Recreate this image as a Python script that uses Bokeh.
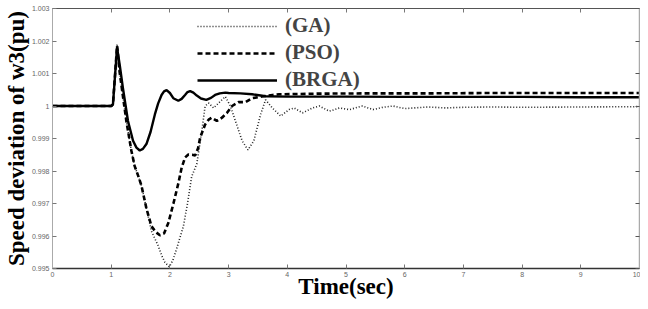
from bokeh.plotting import figure
from bokeh.models import FixedTicker, LinearAxis, Range1d
from bokeh.embed import file_html
from bokeh.resources import INLINE

# ---------------- data ----------------
x_ticks = [0, 1, 2, 3, 4, 5, 6, 7, 8, 9, 10]
x_labels = ["0", "1", "2", "3", "4", "5", "6", "7", "8", "9", "10"]
y_ticks = [0.995, 0.996, 0.997, 0.998, 0.999, 1.0, 1.001, 1.002, 1.003]
y_labels = ["0.995", "0.996", "0.997", "0.998", "0.999", "1", "1.001", "1.002", "1.003"]

t_ga = [0, 1.0, 1.03, 1.10, 1.143, 1.258, 1.343, 1.40, 1.46, 1.515, 1.60, 1.686, 1.80, 1.86, 1.915,
        1.99, 2.05, 2.115, 2.23, 2.30, 2.37, 2.458, 2.544, 2.60, 2.66, 2.744, 2.83, 2.944, 3.03,
        3.116, 3.23, 3.33, 3.43, 3.545, 3.63, 3.745, 3.888, 4.03, 4.117, 4.26, 4.43, 4.545,
        4.717, 4.89, 5.06, 5.28, 5.46, 5.63, 5.8, 6.0, 6.15, 6.4, 6.7, 7.0, 7.5, 8.0, 9.0, 10.0]
v_ga = [1.0, 1.0, 1.00005, 1.0019, 1.00105, 0.99954, 0.99863, 0.99815, 0.99785, 0.99755, 0.99685,
        0.99615, 0.99570, 0.99540, 0.99519, 0.99505, 0.99525, 0.99561, 0.99630, 0.99700, 0.99782,
        0.99822, 0.99923, 1.00000, 1.00009, 0.99994, 1.00009, 1.00029, 1.00000, 0.99954, 0.99893,
        0.99865, 0.99893, 0.99974, 1.00019, 0.99994, 0.99969, 0.99989, 0.99994, 0.99979, 0.99994,
        1.00000, 0.99984, 0.99994, 0.99989, 1.00000, 0.99989, 0.99996, 1.00000, 0.99992, 0.99994,
        0.99997, 0.99994, 0.99996, 0.99997, 0.99996, 0.99997, 0.99998]

t_pso = [0, 1.0, 1.03, 1.10, 1.143, 1.258, 1.343, 1.40, 1.46, 1.515, 1.60, 1.686, 1.76, 1.83, 1.90,
         1.973, 2.06, 2.144, 2.20, 2.26, 2.315, 2.38, 2.43, 2.48, 2.516, 2.60, 2.66, 2.715, 2.80,
         2.887, 2.973, 3.06, 3.17, 3.29, 3.40, 3.57, 3.75, 3.86, 4.5, 5.5, 6.5, 7.5, 8.5, 9.5, 10.0]
v_pso = [1.0, 1.0, 1.00005, 1.00185, 1.00105, 0.99954, 0.99863, 0.99815, 0.99785, 0.99755, 0.99685,
         0.99630, 0.99612, 0.99602, 0.99608, 0.99640, 0.99700, 0.99762, 0.99810, 0.99842, 0.99851,
         0.99850, 0.99848, 0.99870, 0.99903, 0.99943, 0.99958, 0.99964, 0.99954, 0.99964, 0.99979,
         1.00000, 1.00012, 1.00012, 1.00024, 1.00029, 1.00034, 1.00036, 1.00038, 1.00039, 1.00039,
         1.00040, 1.00040, 1.00040, 1.00040]

t_brga = [0, 1.0, 1.03, 1.10, 1.15, 1.20, 1.286, 1.372, 1.43, 1.487, 1.54, 1.60, 1.67, 1.744,
          1.80, 1.858, 1.90, 1.944, 2.0, 2.058, 2.144, 2.20, 2.258, 2.30, 2.344, 2.40, 2.458, 2.53,
          2.62, 2.70, 2.77, 2.85, 2.944, 3.0, 3.2, 3.4, 3.63, 4.0, 5.0, 6.0, 7.0, 8.0, 9.0, 10.0]
v_brga = [1.0, 1.0, 1.00005, 1.0018, 1.0012, 1.00055, 0.99954, 0.99893, 0.99872, 0.99863, 0.99868,
          0.99883, 0.99920, 0.99974, 1.00008, 1.00034, 1.00045, 1.00049, 1.00040, 1.00024, 1.00016,
          1.00022, 1.00034, 1.00043, 1.00046, 1.00041, 1.00032, 1.00023, 1.00019, 1.00025, 1.00034,
          1.00039, 1.00041, 1.00040, 1.00039, 1.00036, 1.00030, 1.00029, 1.00029, 1.00028, 1.00028,
          1.00028, 1.00027, 1.00027]

x_title = "Time(sec)"
y_title = "Speed deviation of w3(pu)"

# ---------------- figure ----------------
p = figure(width=640, height=301, output_backend="svg", toolbar_location=None,
           x_range=Range1d(0, 10), y_range=Range1d(0.995, 1.003),
           min_border_left=47, min_border_right=1, min_border_top=8, min_border_bottom=0)
p.outline_line_color = None
p.xgrid.visible = False
p.ygrid.visible = False
p.background_fill_color = "white"

tick_font = "Liberation Sans"
lab_font = "Liberation Serif"

for ax in (p.xaxis[0], p.yaxis[0]):
    ax.major_tick_in = 4
    ax.major_tick_out = 0
    ax.minor_tick_in = 0
    ax.minor_tick_out = 0
    ax.major_label_text_font = tick_font
    ax.major_label_text_font_size = "7px"
    ax.major_label_text_color = "#666666"
    ax.major_tick_line_color = "#777777"
    ax.axis_label_text_font = lab_font
    ax.axis_label_text_font_style = "bold"
    ax.axis_label_text_color = "black"

p.xaxis.ticker = FixedTicker(ticks=x_ticks)
p.xaxis.major_label_overrides = {k: v for k, v in zip(x_ticks, x_labels)}
p.xaxis.axis_line_color = "#333333"
p.xaxis.axis_line_width = 1.5
p.xaxis.major_label_standoff = 3
p.xaxis.axis_label = x_title
p.xaxis.axis_label_text_font_size = "23px"
p.xaxis.axis_label_standoff = -6

p.yaxis.ticker = FixedTicker(ticks=y_ticks)
p.yaxis.major_label_overrides = {k: v for k, v in zip(y_ticks, y_labels)}
p.yaxis.axis_line_color = "#aaaaaa"
p.yaxis.major_label_standoff = 3
p.yaxis.axis_label = y_title
p.yaxis.axis_label_text_font_size = "23px"
p.yaxis.axis_label_standoff = 0

top = LinearAxis(ticker=FixedTicker(ticks=x_ticks), major_label_text_font_size="0px",
                 major_tick_in=4, major_tick_out=0, minor_tick_in=0, minor_tick_out=0,
                 major_label_standoff=0, axis_line_color="#555555",
                 major_tick_line_color="#777777")
right = LinearAxis(ticker=FixedTicker(ticks=y_ticks), major_label_text_font_size="0px",
                   major_tick_in=4, major_tick_out=0, minor_tick_in=0, minor_tick_out=0,
                   major_label_standoff=0, axis_line_color="#aaaaaa", axis_line_width=1.5,
                   major_tick_line_color="#555555")
p.add_layout(top, "above")
p.add_layout(right, "right")

p.line(t_ga, v_ga, line_color="#222222", line_width=1.6, line_dash="1 2", legend_label="(GA)")
p.line(t_pso, v_pso, line_color="black", line_width=2.6, line_dash="5 3", legend_label="(PSO)")
p.line(t_brga, v_brga, line_color="black", line_width=2.4, legend_label="(BRGA)")

lg = p.legend[0]
lg.location = (145, 176)
lg.background_fill_alpha = 0
lg.border_line_color = None
lg.padding = 0
lg.margin = 0
lg.spacing = 2
lg.glyph_width = 80
lg.glyph_height = 20
lg.label_height = 20
lg.label_standoff = 8
lg.label_text_font = lab_font
lg.label_text_font_style = "bold"
lg.label_text_font_size = "21px"

open("out.html", "w").write(file_html(p, INLINE))
